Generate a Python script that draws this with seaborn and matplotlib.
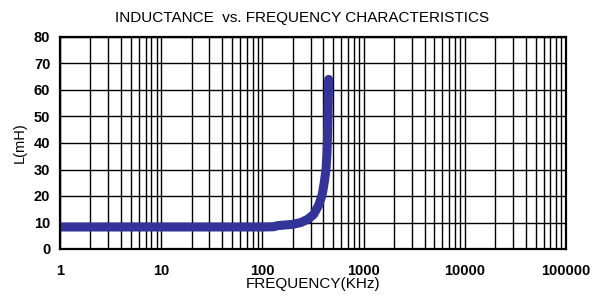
import numpy as np
import pandas as pd
import matplotlib
matplotlib.use("Agg")
import matplotlib.pyplot as plt
import seaborn as sns
from matplotlib.ticker import FixedLocator, NullFormatter

# Data
freq_khz = [1, 10, 100, 130, 140, 160, 200, 240, 280, 320, 360, 390, 410, 425, 435, 442, 447, 450, 452]
induct_mh = [8.3, 8.3, 8.3, 8.4, 8.8, 9.0, 9.3, 10.0, 11.2, 13.0, 16.5, 20.5, 25.5, 30, 36, 45, 55, 62, 64]

x_ticks = [1, 10, 100, 1000, 10000, 100000]
x_tick_labels = ["1", "10", "100", "1000", "10000", "100000"]
y_ticks = [0, 10, 20, 30, 40, 50, 60, 70, 80]

df = pd.DataFrame({"freq": freq_khz, "L": induct_mh})

sns.set_style("white")
plt.rcParams["font.family"] = ["Liberation Sans", "DejaVu Sans"]
plt.rcParams["text.color"] = "black"
plt.rcParams["xtick.color"] = "black"
plt.rcParams["ytick.color"] = "black"
plt.rcParams["axes.labelcolor"] = "black"

fig = plt.figure(figsize=(5.93, 3.05), dpi=100)
ax = fig.add_axes([60 / 593, 1 - 249 / 305, (566 - 60) / 593, (249 - 37) / 305])

sns.lineplot(data=df, x="freq", y="L", ax=ax, color="#333399", linewidth=6.5,
             solid_capstyle="round", solid_joinstyle="round", sort=False)

ax.set_xscale("log")
ax.set_xlim(1, 100000)
ax.set_ylim(0, 80)

minors = [m * 10 ** d for d in range(5) for m in range(2, 10)]
ax.xaxis.set_major_locator(FixedLocator(x_ticks))
ax.xaxis.set_minor_locator(FixedLocator(minors))
ax.xaxis.set_minor_formatter(NullFormatter())
ax.set_xticklabels(x_tick_labels)
ax.set_yticks(y_ticks)

ax.grid(True, which="both", axis="x", color="black", linewidth=1.0)
ax.grid(True, which="major", axis="y", color="black", linewidth=1.0)

for s in ax.spines.values():
    s.set_visible(True)
    s.set_color("black")
    s.set_linewidth(1.6)

ax.tick_params(axis="both", which="both", length=0)
ax.tick_params(axis="x", pad=11)
ax.tick_params(axis="y", pad=7)
for lab in ax.get_xticklabels() + ax.get_yticklabels():
    lab.set_fontweight("bold")
    lab.set_fontsize(10.5)

ax.set_xlabel("FREQUENCY(KHz)", fontsize=11, labelpad=-1)
ax.set_ylabel("L(mH)", fontsize=10.5, labelpad=5)
fig.text(302 / 593, 1 - 18 / 305, "INDUCTANCE  vs. FREQUENCY CHARACTERISTICS",
         ha="center", va="center", fontsize=11)

fig.savefig("out.png", dpi=100)
